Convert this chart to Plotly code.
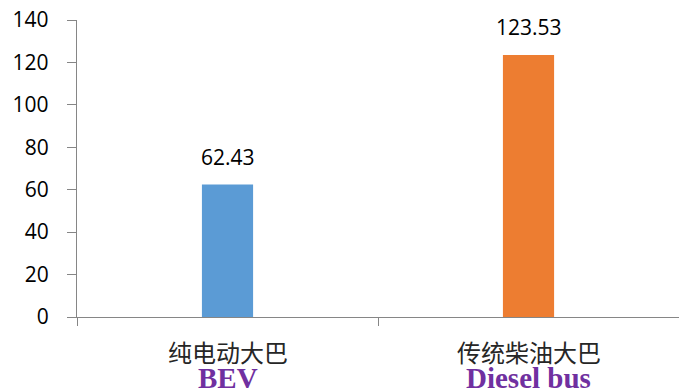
import plotly.graph_objects as go

categories_cn = ["纯电动大巴", "传统柴油大巴"]
categories_en = ["BEV", "Diesel bus"]
values = [62.43, 123.53]
bar_colors = ["#5B9BD5", "#ED7D31"]
y_ticks = [0, 20, 40, 60, 80, 100, 120, 140]

fig = go.Figure()
fig.add_trace(go.Bar(
    x=categories_cn, y=values, width=0.17,
    marker=dict(color=bar_colors, line=dict(width=0)),
    hoverinfo="skip",
))

annotations = []
for c, en, v in zip(categories_cn, categories_en, values):
    annotations.append(dict(x=c, y=v, xref="x", yref="y", text=f"{v:.2f}",
                            showarrow=False, yanchor="bottom", yshift=12,
                            font=dict(family="Open Sans", size=21, color="#000000")))
    annotations.append(dict(x=c, y=0, xref="x", yref="paper", text=c,
                            showarrow=False, yanchor="middle", yshift=-34,
                            font=dict(family="Noto Sans CJK SC", size=24, color="#262626")))
    annotations.append(dict(x=c, y=0, xref="x", yref="paper", text=f"<b>{en}</b>",
                            showarrow=False, yanchor="middle", yshift=-61,
                            font=dict(family="Liberation Serif", size=29, color="#7030A0")))

fig.update_layout(
    width=679, height=392,
    margin=dict(l=77, r=0, t=20, b=75),
    paper_bgcolor="white", plot_bgcolor="white",
    showlegend=False,
    annotations=annotations,
    xaxis=dict(type="category", showticklabels=False, tickson="boundaries",
               ticks="outside", ticklen=8, tickcolor="#868686", tickwidth=1.3,
               showline=True, linecolor="#868686", linewidth=1.3,
               showgrid=False, zeroline=False, range=[-0.5, 1.5]),
    yaxis=dict(range=[0, 140], tickvals=y_ticks, ticks="outside", ticklen=9,
               tickcolor="#868686", tickwidth=1.3,
               showline=True, linecolor="#868686", linewidth=1.3,
               showgrid=False, zeroline=False, ticklabelstandoff=14,
               tickfont=dict(family="Open Sans", size=21, color="#000000")),
)

fig.write_html("out.html")
